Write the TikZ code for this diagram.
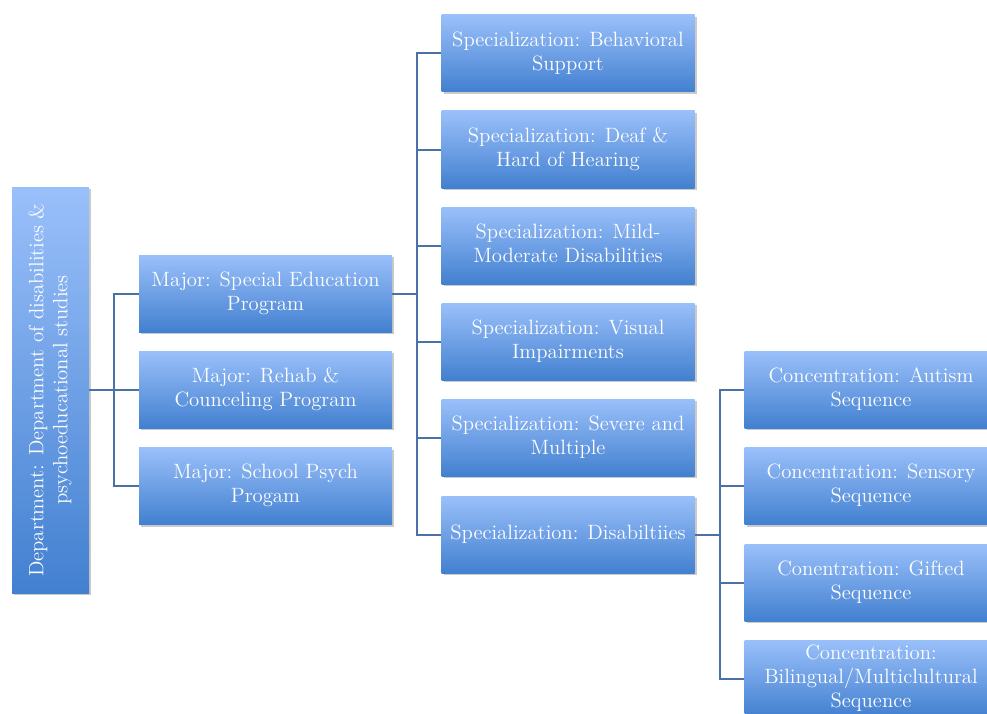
\documentclass[tikz,border=0pt]{standalone}
\usetikzlibrary{shadows}
\definecolor{boxtop}{HTML}{9AC0FA}
\definecolor{boxbot}{HTML}{4280D0}
\definecolor{linec}{HTML}{4A72A8}
\newcommand{\bxt}[1]{\scalebox{1.08}{\begin{tabular}{@{}c@{}}#1\end{tabular}}}
\tikzset{
  x=0.75pt, y=-0.75pt,
  orgbox/.style={rectangle, top color=boxtop, bottom color=boxbot, draw=none,
    text=white, align=center, inner sep=1pt,
    font=\fontsize{14.4}{16.7}\selectfont,
    drop shadow={shadow xshift=1.5pt, shadow yshift=-1.5pt, opacity=0.35, fill=black!60}},
  majbox/.style={orgbox, minimum width=189.75pt, minimum height=57.75pt},
  conn/.style={draw=linec, line width=1.5pt}
}
\begin{document}
\begin{tikzpicture}
\useasboundingbox (0,0) rectangle (987,713);
\clip (0,0) rectangle (987,713);
% department
\node[orgbox, minimum width=57.75pt, minimum height=304.5pt] (dept) at (50.5,390)
  {\rotatebox{90}{\bxt{Department: Department of disabilities \&\\ psychoeducational studies}}};
% majors
\node[majbox] (m1) at (265.5,293.5) {\bxt{Major: Special Education\\ Program}};
\node[majbox] (m2) at (265.5,389.5) {\bxt{Major: Rehab \&\\ Counceling Program}};
\node[majbox] (m3) at (265.5,486) {\bxt{Major: School Psych\\ Progam}};
% specializations
\node[majbox] (s1) at (568,53.5) {\bxt{Specialization: Behavioral\\ Support}};
\node[majbox] (s2) at (568,149.5) {\bxt{Specialization: Deaf \&\\ Hard of Hearing}};
\node[majbox] (s3) at (568,245.5) {\bxt{Specialization: Mild-\\ Moderate Disabilities}};
\node[majbox] (s4) at (568,341.5) {\bxt{Specialization: Visual\\ Impairments}};
\node[majbox] (s5) at (568,437.5) {\bxt{Specialization: Severe and\\ Multiple}};
\node[majbox] (s6) at (568,534.5) {\bxt{Specialization: Disabiltiies}};
% concentrations
\node[majbox] (c1) at (871,389.5) {\bxt{Concentration: Autism\\ Sequence}};
\node[majbox] (c2) at (871,486) {\bxt{Concentration: Sensory\\ Sequence}};
\node[majbox] (c3) at (871,582.5) {\bxt{Conentration: Gifted\\ Sequence}};
\node[majbox] (c4) at (871,678.5) {\bxt{Concentration:\\ Bilingual/Multiclultural\\ Sequence}};
% connectors
\coordinate (j1) at (114,390);
\coordinate (j2) at (417,293.5);
\coordinate (j3) at (720,534.5);
\draw[conn] (dept.east) -- (j1);
\foreach \m in {m1,m2,m3} \draw[conn] (j1) |- (\m.west);
\draw[conn] (m1.east) -- (j2);
\foreach \s in {s1,s2,s3,s4,s5,s6} \draw[conn] (j2) |- (\s.west);
\draw[conn] (s6.east) -- (j3);
\foreach \c in {c1,c2,c3,c4} \draw[conn] (j3) |- (\c.west);
\end{tikzpicture}
\end{document}
